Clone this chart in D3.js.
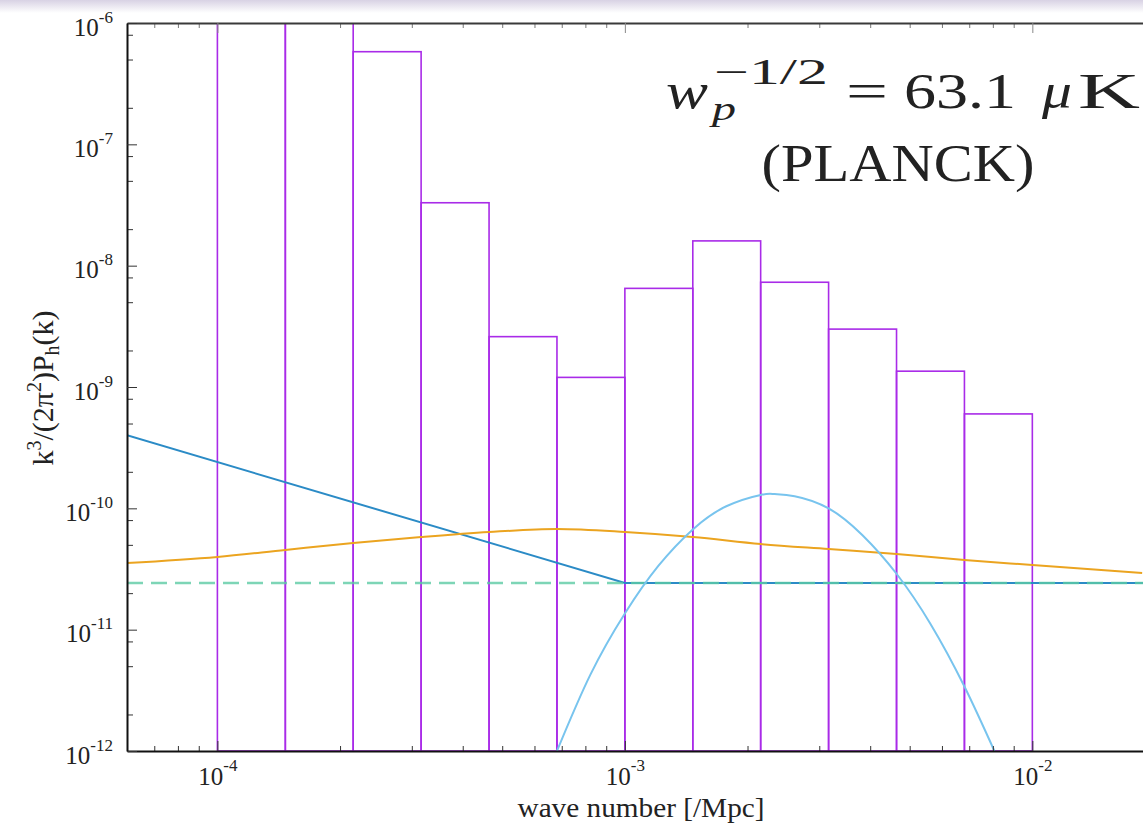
<!DOCTYPE html>
<html><head><meta charset="utf-8">
<script src="https://cdn.jsdelivr.net/npm/d3@7"></script>
<style>html,body{margin:0;padding:0;background:#fff;overflow:hidden}
text{font-family:"Liberation Serif","Times New Roman",serif;fill:#222}</style>
</head><body><svg id="c" width="1143" height="829"></svg>
<script>
// ---- data ----
const binEdges = [1e-4, 1.468e-4, 2.154e-4, 3.162e-4, 4.642e-4, 6.813e-4, 1e-3, 1.468e-3, 2.154e-3, 3.162e-3, 4.642e-3, 6.813e-3, 1e-2];
const binValues = [1e-6, 1e-6, 5.8e-7, 3.3e-8, 2.6e-9, 1.2e-9, 6.5e-9, 1.6e-8, 7.3e-9, 3.0e-9, 1.35e-9, 6.0e-10];

const blueK = [6e-5, 1e-3, 2e-2];
const blueV = [4.0e-10, 2.43e-11, 2.43e-11];

const greenK = [6e-5, 2e-2];
const greenV = [2.43e-11, 2.43e-11];

const orangeK = [6e-5, 1e-4, 1.468e-4, 2.154e-4, 3.162e-4, 4.642e-4, 6.813e-4, 1e-3, 1.468e-3, 2.154e-3, 3.162e-3, 4.642e-3, 6.813e-3, 1e-2, 1.86e-2];
const orangeV = [3.54e-11, 3.97e-11, 4.54e-11, 5.18e-11, 5.80e-11, 6.38e-11, 6.75e-11, 6.38e-11, 5.80e-11, 5.08e-11, 4.62e-11, 4.21e-11, 3.75e-11, 3.41e-11, 2.93e-11];

const lightK = [6.813e-4, 8.23e-4, 1e-3, 1.208e-3, 1.468e-3, 1.774e-3, 2.154e-3, 2.33e-3, 2.61e-3, 3.162e-3, 3.83e-3, 4.642e-3, 5.62e-3, 6.813e-3, 8.07e-3];
const lightV = [1e-12, 4.26e-12, 1.36e-11, 3.35e-11, 6.7e-11, 1.04e-10, 1.29e-10, 1.31e-10, 1.26e-10, 1.0e-10, 6.0e-11, 2.89e-11, 1.12e-11, 3.4e-12, 1e-12];

const xMajorTicks = [1e-4, 1e-3, 1e-2];
const xTickExps = ["-4", "-3", "-2"];
const yMajorTicks = [1e-12, 1e-11, 1e-10, 1e-9, 1e-8, 1e-7, 1e-6];
const yTickExps = ["-12", "-11", "-10", "-9", "-8", "-7", "-6"];
const xMinorMults = [2, 3, 4, 5, 6, 7, 8, 9];
const yMinorMults = [2, 5, 8];

// ---- layout ----
const W = 1143, H = 829;
const m = {left: 127, top: 23, right: 1155, bottom: 751};
const x = d3.scaleLog().domain([6e-5, 2e-2]).range([m.left, m.right]);
const y = d3.scaleLog().domain([1e-12, 1e-6]).range([m.bottom, m.top]);

const svg = d3.select("#c");
const defs = svg.append("defs");
const grad = defs.append("linearGradient").attr("id", "band").attr("x1", 0).attr("y1", 0).attr("x2", 0).attr("y2", 1);
grad.append("stop").attr("offset", "0%").attr("stop-color", "#d8d2e4");
grad.append("stop").attr("offset", "100%").attr("stop-color", "#ffffff");
svg.append("rect").attr("x", 0).attr("y", 0).attr("width", W).attr("height", 13).attr("fill", "url(#band)");

defs.append("clipPath").attr("id", "plot").append("rect")
  .attr("x", m.left).attr("y", m.top).attr("width", m.right - m.left).attr("height", m.bottom - m.top);

const plot = svg.append("g").attr("clip-path", "url(#plot)");

// bars
const bins = binValues.map((v, i) => ({x0: binEdges[i], x1: binEdges[i + 1], v}));
plot.selectAll("rect.bar").data(bins).join("rect").attr("class", "bar")
  .attr("x", d => x(d.x0)).attr("width", d => x(d.x1) - x(d.x0))
  .attr("y", d => y(d.v)).attr("height", d => y(1e-12) - y(d.v))
  .attr("fill", "none").attr("stroke", "#a92be8").attr("stroke-width", 1.6);

const zip = (ks, vs) => ks.map((k, i) => [k, vs[i]]);
const lin = d3.line().x(d => x(d[0])).y(d => y(d[1]));
const smooth = d3.line().x(d => x(d[0])).y(d => y(d[1])).curve(d3.curveMonotoneX);

plot.append("path").attr("d", lin(zip(blueK, blueV))).attr("fill", "none")
  .attr("stroke", "#2b8bc6").attr("stroke-width", 2);
plot.append("path").attr("d", lin(zip(greenK, greenV))).attr("fill", "none")
  .attr("stroke", "#5ccba4").attr("stroke-opacity", 0.8).attr("stroke-width", 2.5).attr("stroke-dasharray", "16,8");
plot.append("path").attr("d", smooth(zip(orangeK, orangeV))).attr("fill", "none")
  .attr("stroke", "#eba420").attr("stroke-width", 2);
plot.append("path").attr("d", d3.line().x(d => x(d[0])).y(d => y(d[1])).curve(d3.curveNatural)(zip(lightK, lightV))).attr("fill", "none")
  .attr("stroke", "#78c4ee").attr("stroke-width", 2);

// minor tick values
const xMinor = [];
[-5, -4, -3, -2].forEach(e => xMinorMults.forEach(mu => { const v = mu * Math.pow(10, e); if (v >= 6e-5 && v <= 2e-2) xMinor.push(v); }));
const yMinor = [];
[-12, -11, -10, -9, -8, -7].forEach(e => yMinorMults.forEach(mu => yMinor.push(mu * Math.pow(10, e))));

function styleAxis(g, color, width) {
  g.select(".domain").attr("stroke", color).attr("stroke-width", width);
  g.selectAll(".tick line").attr("stroke", "#333").attr("stroke-width", 1);
  g.selectAll(".tick text").remove();
}

// bottom
const gb = svg.append("g").attr("transform", `translate(0,${m.bottom})`)
  .call(d3.axisBottom(x).tickValues(xMinor).tickSize(-5).tickSizeOuter(0).tickFormat(""));
styleAxis(gb, "none", 0);
const gbM = svg.append("g").attr("transform", `translate(0,${m.bottom})`)
  .call(d3.axisBottom(x).tickValues(xMajorTicks).tickSize(-10).tickSizeOuter(0).tickFormat(""));
styleAxis(gbM, "#111", 2);
gbM.selectAll(".tick").append("text").attr("y", 34).attr("text-anchor", "middle")
  .style("font-size", "25px").each(function (d, i) {
    const t = d3.select(this);
    t.append("tspan").text("10");
    t.append("tspan").attr("dy", -14).style("font-size", "17px").text(xTickExps[i]);
  });

// top
const gt = svg.append("g").attr("transform", `translate(0,${m.top})`)
  .call(d3.axisTop(x).tickValues(xMinor).tickSize(-5).tickSizeOuter(0).tickFormat(""));
styleAxis(gt, "none", 0);
const gtM = svg.append("g").attr("transform", `translate(0,${m.top})`)
  .call(d3.axisTop(x).tickValues(xMajorTicks).tickSize(-10).tickSizeOuter(0).tickFormat(""));
styleAxis(gtM, "#3a3a3a", 2);
gtM.selectAll(".tick line").attr("stroke", "#888");
gt.selectAll(".tick line").attr("stroke", "#777");

// left
const gl = svg.append("g").attr("transform", `translate(${m.left},0)`)
  .call(d3.axisLeft(y).tickValues(yMinor).tickSize(-6).tickSizeOuter(0).tickFormat(""));
styleAxis(gl, "none", 0);
const glM = svg.append("g").attr("transform", `translate(${m.left},0)`)
  .call(d3.axisLeft(y).tickValues(yMajorTicks).tickSize(-10).tickSizeOuter(0).tickFormat(""));
styleAxis(glM, "#111", 2);
glM.selectAll(".tick").append("text").attr("x", -14).attr("y", 12).attr("text-anchor", "end")
  .style("font-size", "25px").each(function (d, i) {
    const t = d3.select(this);
    t.append("tspan").text("10");
    t.append("tspan").attr("dy", -13).style("font-size", "17px").text(yTickExps[i]);
  });

// right (off-screen edge)
svg.append("g").attr("transform", `translate(${m.right},0)`)
  .call(d3.axisRight(y).tickValues(yMajorTicks).tickSize(-10).tickSizeOuter(0).tickFormat(""))
  .call(g => styleAxis(g, "#111", 2));

// axis labels
svg.append("text").attr("x", (m.left + m.right) / 2).attr("y", 817).attr("text-anchor", "middle")
  .attr("textLength", 247).attr("lengthAdjust", "spacingAndGlyphs")
  .style("font-size", "28px").text("wave number [/Mpc]");

const yl = svg.append("text").attr("transform", `translate(53,388) rotate(-90)`).attr("text-anchor", "middle")
  .style("font-size", "30px");
yl.append("tspan").text("k");
yl.append("tspan").attr("dy", -12).style("font-size", "20px").text("3");
yl.append("tspan").attr("dy", 12).text("/(2π");
yl.append("tspan").attr("dy", -12).style("font-size", "20px").text("2");
yl.append("tspan").attr("dy", 12).text(")P");
yl.append("tspan").attr("dy", 6).style("font-size", "20px").text("h");
yl.append("tspan").attr("dy", -6).text("(k)");

// annotation
const ann = svg.append("g").attr("fill", "#222");
ann.append("text").attr("x", 666).attr("y", 108).style("font-size", "50px").style("font-style", "italic")
  .attr("textLength", 42).attr("lengthAdjust", "spacingAndGlyphs").text("w");
ann.append("text").attr("x", 712).attr("y", 120).style("font-size", "34px").style("font-style", "italic")
  .attr("textLength", 24).attr("lengthAdjust", "spacingAndGlyphs").text("p");
ann.append("text").attr("x", 714).attr("y", 84).style("font-size", "35px")
  .attr("textLength", 114).attr("lengthAdjust", "spacingAndGlyphs").text("−1/2");
ann.append("text").attr("x", 846).attr("y", 108).style("font-size", "50px")
  .attr("textLength", 42).attr("lengthAdjust", "spacingAndGlyphs").text("=");
ann.append("text").attr("x", 904).attr("y", 108).style("font-size", "50px")
  .attr("textLength", 112).attr("lengthAdjust", "spacingAndGlyphs").text("63.1");
ann.append("text").attr("x", 1042).attr("y", 108).style("font-size", "50px").style("font-style", "italic")
  .attr("textLength", 30).attr("lengthAdjust", "spacingAndGlyphs").text("μ");
ann.append("text").attr("x", 1078).attr("y", 108).style("font-size", "50px")
  .attr("textLength", 62).attr("lengthAdjust", "spacingAndGlyphs").text("K");
ann.append("text").attr("x", 898).attr("y", 181).attr("text-anchor", "middle").style("font-size", "52px")
  .attr("textLength", 273).attr("lengthAdjust", "spacingAndGlyphs").text("(PLANCK)");
</script></body></html>
